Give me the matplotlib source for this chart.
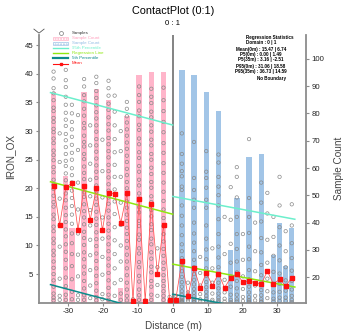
import numpy as np
import matplotlib.pyplot as plt
from matplotlib.lines import Line2D
from matplotlib.patches import Rectangle

plt.rcParams['font.family'] = ['Liberation Sans', 'DejaVu Sans']
plt.rcParams['axes.unicode_minus'] = False

W, H = 352, 333

# 1.75 m bins either side of the contact
bin_edges = np.arange(-35.0, 35.01, 1.75)
centres = (bin_edges[:-1] + bin_edges[1:]) / 2
left_x = centres[:20]
right_x = centres[20:]

# sample counts per bin (domain 0 on the left, domain 1 on the right)
left_counts = [88, 7, 57, 38, 8, 88, 6, 89, 7, 85, 9, 16, 79, 3, 94, 2, 95, 5, 95, 3]
right_counts = [3, 96, 4, 94, 6, 88, 6, 81, 6, 30, 49, 8, 64, 7, 65, 9, 28, 40, 24, 38]

# mean IRON_OX per bin
left_mean = [20.4, 13.6, 20.2, 20.9, 12.7, 20.4, 14.5, 20.0, 12.7, 19.2,
             19.0, 13.9, 19.2, 0.3, 18.1, 0.3, 17.3, 5.0, 13.6, 0.5]
right_mean = [0.5, 7.3, 1.2, 6.0, 2.6, 5.2, 3.0, 5.1, 2.6, 4.4,
              5.0, 3.6, 3.8, 3.5, 3.3, 5.5, 3.3, 4.1, 2.9, 4.4]

# regression statistics at the contact and at 35 m (domain 0, domain 1)
reg_0m = [15.47, 6.74]
reg_35m = [21.14, 2.74]
p5_0m = [-2.51, 1.49]
p5_35m = [3.16, -2.51]
p95_0m = [31.06, 18.58]
p95_35m = [36.73, 14.59]

# individual samples per bin
left_samples = [
    [40.4, 39.2, 37.5, 36.6, 35.4, 34.1, 33.5, 32.3, 31.6, 30.4, 29.8, 28.7, 27.9, 26.6, 25.8, 24.9, 23.7, 22.8,
     21.5, 20.6, 19.9, 18.7, 17.6, 16.8, 15.4, 14.6, 13.3, 12.5, 11.2, 10.4, 9.1, 8.3, 7.2, 6.1, 5.0, 3.9, 2.8, 1.6, 0.9, 0.4],
    [29.6, 24.6, 18.2, 13.5, 9.8, 4.2, 1.2, 0.5],
    [40.7, 38.9, 37.7, 36.0, 34.6, 33.2, 32.0, 30.9, 29.5, 28.4, 27.2, 26.0, 24.8, 23.9, 22.6, 21.4, 20.3, 19.1,
     17.9, 16.6, 15.3, 14.1, 12.8, 11.6, 10.2, 8.9, 7.5, 6.0, 4.4, 2.9, 1.4, 0.5],
    [34.6, 33.1, 31.6, 30.3, 29.0, 27.6, 26.2, 25.0, 23.5, 22.3, 21.0, 19.6, 18.3, 16.9, 15.4, 13.8, 12.1, 10.4,
     8.5, 6.4, 4.1, 1.9, 0.6],
    [32.8, 26.7, 21.0, 16.3, 12.1, 8.4, 4.6, 1.3, 0.5],
    [39.1, 37.8, 36.3, 35.2, 33.9, 32.7, 31.4, 30.5, 29.2, 28.1, 27.3, 26.0, 25.1, 23.8, 22.7, 21.6, 20.4, 19.3,
     18.5, 17.2, 16.0, 14.9, 13.7, 12.4, 11.3, 10.1, 8.8, 7.6, 6.3, 5.1, 3.8, 2.5, 1.3, 0.5],
    [31.0, 27.5, 24.3, 21.5, 18.6, 16.2, 13.5, 11.0, 8.3, 5.7, 3.0, 0.8],
    [39.5, 38.4, 37.0, 35.8, 34.5, 33.3, 32.2, 31.0, 29.9, 28.6, 27.5, 26.4, 25.2, 24.0, 22.9, 21.8, 20.5, 19.4,
     18.2, 17.1, 15.9, 14.7, 13.6, 12.3, 11.1, 9.9, 8.6, 7.3, 6.0, 4.7, 3.4, 2.1, 1.0, 0.4],
    [28.5, 23.0, 18.4, 14.9, 11.2, 8.0, 4.9, 1.5, 0.6],
    [38.8, 37.5, 36.2, 34.8, 33.7, 32.4, 31.2, 30.1, 28.8, 27.7, 26.5, 25.4, 24.1, 23.0, 21.9, 20.7, 19.6, 18.4,
     17.3, 16.1, 14.9, 13.8, 12.6, 11.4, 10.2, 9.0, 7.7, 6.5, 5.2, 3.9, 2.6, 1.4, 0.5],
    [36.2, 33.4, 31.0, 28.6, 26.3, 24.1, 22.0, 19.8, 17.7, 15.5, 13.2, 10.9, 8.5, 6.0, 3.4, 1.2],
    [30.0, 26.5, 22.0, 17.5, 13.6, 10.0, 7.2, 4.0, 1.6, 0.5],
    [35.1, 33.9, 32.6, 31.5, 30.3, 29.2, 28.0, 26.9, 25.7, 24.6, 23.4, 22.3, 21.1, 20.0, 18.9, 17.7, 16.6, 15.4,
     14.3, 13.1, 12.0, 10.8, 9.6, 8.4, 7.2, 6.0, 4.8, 3.5, 2.3, 1.2, 0.4],
    [0.6, 0.3, 0.2],
    [37.8, 36.3, 35.1, 33.6, 32.6, 31.1, 30.2, 28.7, 27.7, 26.3, 25.3, 23.9, 22.9, 21.5, 20.5, 19.1, 18.2, 16.7,
     15.8, 14.3, 13.4, 11.9, 11.0, 9.5, 8.6, 7.1, 6.2, 4.7, 3.7, 2.3, 1.3, 0.5],
    [0.4, 0.2],
    [37.4, 36.0, 34.9, 33.4, 32.4, 31.0, 29.9, 28.5, 27.5, 26.0, 25.0, 23.6, 22.5, 21.1, 20.1, 18.6, 17.6, 16.2,
     15.1, 13.7, 12.7, 11.2, 10.2, 8.8, 7.7, 6.3, 5.3, 3.8, 2.8, 1.4, 0.5],
    [9.5, 6.2, 3.1, 1.2],
    [37.6, 35.4, 33.5, 31.6, 29.8, 27.9, 26.2, 24.4, 22.7, 21.0, 19.4, 17.8, 16.3, 14.8, 13.4, 12.0, 10.7, 9.4,
     8.2, 7.0, 5.9, 4.8, 3.8, 2.9, 2.0, 1.2, 0.5],
    [1.0, 0.4, 0.2],
]

right_samples = [
    [1.2, 0.6, 0.3],
    [29.6, 26.0, 24.3, 23.0, 22.1, 20.3, 19.7, 17.0, 15.2, 13.5, 11.8, 10.2, 9.0, 7.8, 6.6, 5.5, 4.5, 3.6,
     2.8, 2.0, 1.4, 0.9, 0.5, 0.3, 0.2, 0.1, 0.1, 0.2],
    [3.5, 1.8, 0.6, 0.3],
    [28.1, 21.8, 19.7, 18.0, 16.6, 14.0, 12.1, 10.5, 9.0, 7.5, 6.2, 5.0, 4.0, 3.2, 2.4, 1.7, 1.1, 0.7, 0.4,
     0.2, 0.1, 0.1],
    [8.0, 5.2, 3.0, 1.5, 0.6, 0.2],
    [26.5, 22.9, 21.8, 20.1, 18.0, 16.6, 13.5, 11.2, 9.3, 7.6, 6.0, 4.7, 3.6, 2.7, 1.9, 1.2, 0.7, 0.3, 0.1],
    [9.5, 6.0, 3.5, 1.6, 0.5, 0.2],
    [25.9, 24.5, 22.0, 20.3, 18.8, 17.0, 14.6, 12.0, 9.8, 7.9, 6.2, 4.8, 3.5, 2.5, 1.6, 0.9, 0.4, 0.1],
    [15.0, 8.5, 4.0, 1.8, 0.7, 0.2],
    [20.2, 14.5, 10.3, 7.0, 4.6, 2.8, 1.4, 0.5, 0.1],
    [23.7, 22.0, 18.4, 15.0, 12.0, 9.4, 7.2, 5.3, 3.8, 2.5, 1.4, 0.6, 0.2],
    [12.0, 7.5, 4.6, 2.4, 1.0, 0.3],
    [28.6, 18.3, 15.0, 12.2, 9.8, 7.6, 5.7, 4.1, 2.8, 1.8, 1.0, 0.5, 0.2, 0.1],
    [14.0, 9.0, 5.5, 3.0, 1.2, 0.4],
    [21.0, 17.5, 14.2, 11.3, 8.8, 6.6, 4.8, 3.3, 2.2, 1.3, 0.6, 0.2, 0.1],
    [19.2, 15.6, 11.0, 7.0, 4.2, 2.0, 0.8],
    [15.0, 11.5, 8.2, 5.4, 3.3, 1.8, 0.7, 0.2],
    [22.0, 17.0, 13.2, 10.0, 7.4, 5.1, 3.3, 1.9, 0.9, 0.3],
    [12.5, 9.0, 6.2, 3.9, 2.1, 0.9, 0.3],
    [17.2, 13.5, 10.4, 7.8, 5.6, 3.8, 2.3, 1.2, 0.5, 0.1],
]

pink = '#ffb5ca'
blue = '#a2c5e7'
c_p95 = '#6cefcc'
c_reg = '#8ee80f'
c_p5 = '#0b8b8b'
c_mean = '#ff1010'
grey = '#8c8c8c'

fig = plt.figure(figsize=(W / 100, H / 100), dpi=100)
ax = fig.add_axes([39 / W, 1 - 302.7 / H, 267 / W, 267.7 / H])
ax2 = ax.twinx()
ax.set_zorder(ax2.get_zorder() + 1)
ax.patch.set_visible(False)

# sample count bars on the right axis
ax2.bar(left_x, left_counts, width=1.55, color=pink, linewidth=0)
ax2.bar(right_x, right_counts, width=1.55, color=blue, linewidth=0)

# samples
for xs, vals in ((left_x, left_samples), (right_x, right_samples)):
    for x, v in zip(xs, vals):
        ax.scatter([x] * len(v), v, s=6, facecolors='none', edgecolors='#8a8a8a', linewidths=0.5, zorder=3)

# regression and percentile lines
ax.plot([-35, 0], [p95_35m[0], p95_0m[0]], color=c_p95, lw=1.1, zorder=4)
ax.plot([0, 35], [p95_0m[1], p95_35m[1]], color=c_p95, lw=1.1, zorder=4)
ax.plot([-35, 0], [reg_35m[0], reg_0m[0]], color=c_reg, lw=1.1, zorder=4)
ax.plot([0, 35], [reg_0m[1], reg_35m[1]], color=c_reg, lw=1.1, zorder=4)
ax.plot([-35, 0], [p5_35m[0], p5_0m[0]], color=c_p5, lw=1.1, zorder=4)
ax.plot([0, 35], [p5_0m[1], p5_35m[1]], color=c_p5, lw=1.1, zorder=4)

# mean line
ax.plot(np.concatenate([left_x, right_x]), left_mean + right_mean, color='#ff5050', lw=0.55,
        marker='s', ms=2.6, mfc=c_mean, mec=c_mean, zorder=5)

# contact
ax.axvline(0, color='#6e6e6e', lw=1.2, zorder=2)
ax.text(0, 1.03, '0 : 1', transform=ax.get_xaxis_transform(), ha='center', va='bottom', fontsize=5.6)

ax.set_xlim(-38.3, 38.2)
ax.set_ylim(0, 46.8)
ax2.set_ylim(10.7, 108.7)
ax.set_xticks([-30, -20, -10, 0, 10, 20, 30])
ax.set_yticks([5, 10, 15, 20, 25, 30, 35, 40, 45])
ax2.set_yticks([20, 30, 40, 50, 60, 70, 80, 90, 100])

for a in (ax, ax2):
    for s in a.spines.values():
        s.set_visible(False)
    a.tick_params(labelsize=5.6, colors='#222', length=2.5, width=0.8, pad=1.5)
    a.tick_params(color=grey)
ax.spines['left'].set_visible(True)
ax.spines['bottom'].set_visible(True)
ax2.spines['right'].set_visible(True)
for s in (ax.spines['left'], ax.spines['bottom'], ax2.spines['right']):
    s.set_color(grey)
    s.set_linewidth(1.3)

# chevron at the top of the value axis
ax.plot([-0.019, 0, 0.019], [1.022, 1.007, 1.022], transform=ax.transAxes, color='#555', lw=0.6, clip_on=False)

fig.text(172.7 / W, 1 - 11.5 / H, 'ContactPlot (0:1)', ha='center', va='center', fontsize=7.8)
fig.text(9.8 / W, 1 - 157 / H, 'IRON_OX', rotation=90, ha='center', va='center', fontsize=7.2, color='#444')
fig.text(173.5 / W, 1 - 326 / H, 'Distance (m)', ha='center', va='center', fontsize=7.2, color='#444')
fig.text(339.5 / W, 1 - 168 / H, 'Sample Count', rotation=90, ha='center', va='center', fontsize=7.2, color='#444')

# legend
def fpos(px, py):
    return px / W, 1 - py / H

leg_rows = [32.7, 38.3, 43.3, 48.3, 53.0, 58.3, 63.5]
leg_labels = ['Samples', 'Sample Count', 'Sample Count', '95th Percentile', 'Regression Line', '5th Percentile', 'Mean']
leg_colors = ['#333333', '#ff9fbd', '#94bde4', c_p95, c_reg, c_p5, c_mean]
for i, (py, lab, col) in enumerate(zip(leg_rows, leg_labels, leg_colors)):
    fig.text(*fpos(72, py), lab, color=col, fontsize=3.2, ha='left', va='center')
    x0, y0 = fpos(53, py)
    x1, _ = fpos(68, py)
    if i == 0:
        fig.add_artist(Line2D([(x0 + x1) / 2], [y0], marker='o', ms=2.8, mfc='none', mec='#777', mew=0.5))
    elif i in (1, 2):
        edge = pink if i == 1 else blue
        fig.add_artist(Rectangle(fpos(53, py + 1.6), 15 / W, 3.2 / H, facecolor='white', edgecolor=edge,
                                 hatch='......', lw=0.5, transform=fig.transFigure))
    elif i == 6:
        fig.add_artist(Line2D([x0, x1], [y0, y0], color=col, lw=0.8))
        fig.add_artist(Line2D([(x0 + x1) / 2], [y0], marker='s', ms=1.5, color=col))
    else:
        fig.add_artist(Line2D([x0, x1], [y0, y0], color=col, lw=1.6 if i == 5 else 1.0))

# regression statistics block
stats_lines = ['Domain : 0 | 1',
               'Mean(0m) : %.2f | %.2f' % (reg_0m[0], reg_0m[1]),
               'P5(0m) : 0.00 | %.2f' % p5_0m[1],
               'P5(35m) : %.2f | %.2f' % (p5_35m[0], p5_35m[1]),
               'P95(0m) : %.2f | %.2f' % (p95_0m[0], p95_0m[1]),
               'P95(35m) : %.2f | %.2f' % (p95_35m[0], p95_35m[1])]
stats_rows = [42.5, 49.0, 54.3, 59.2, 66.2, 71.7]
fig.text(*fpos(270, 37), 'Regression Statistics', fontsize=3.3, weight='bold', ha='center', va='center')
for py, line in zip(stats_rows, stats_lines):
    fig.text(*fpos(261, py), line, fontsize=3.3, weight='bold', ha='center', va='center')
fig.text(*fpos(286, 78.3), 'No Boundary', fontsize=3.3, weight='bold', ha='right', va='center')

fig.savefig('out.png', dpi=100)
